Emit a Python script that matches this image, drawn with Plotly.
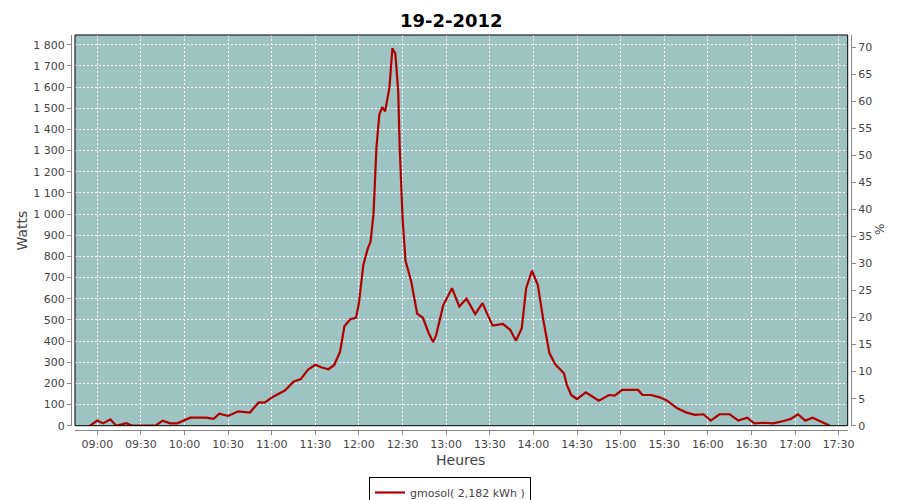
import plotly.graph_objects as go

DAY = "2012-02-19"
times = ["08:55", "09:00", "09:04", "09:09", "09:13", "09:20", "09:24", "09:40", "09:45", "09:50",
         "09:55", "10:00", "10:04", "10:15", "10:18", "10:20", "10:24", "10:30", "10:37", "10:45",
         "10:51", "10:55", "11:01", "11:09", "11:15", "11:20", "11:25", "11:30", "11:34", "11:39",
         "11:43", "11:47", "11:50", "11:54", "11:58", "12:00", "12:03", "12:06", "12:08", "12:10",
         "12:12", "12:14", "12:16", "12:18", "12:21", "12:23", "12:24", "12:25", "12:27", "12:28",
         "12:30", "12:32", "12:36", "12:40", "12:44", "12:48", "12:51", "12:53", "12:58", "13:04",
         "13:09", "13:14", "13:20", "13:25", "13:28", "13:32", "13:39", "13:44", "13:48", "13:52",
         "13:55", "13:59", "14:03", "14:07", "14:11", "14:15", "14:21", "14:23", "14:26", "14:30",
         "14:36", "14:41", "14:45", "14:52", "14:56", "15:01", "15:12", "15:15", "15:21", "15:27",
         "15:32", "15:39", "15:45", "15:51", "15:57", "16:02", "16:08", "16:15", "16:21", "16:27",
         "16:32", "16:38", "16:45", "16:52", "16:57", "17:02", "17:07", "17:12", "17:18", "17:24"]
watts = [0, 24, 11, 30, 0, 12, 0, 0, 24, 11,
         11, 27, 38, 38, 33, 33, 57, 46, 68, 62,
         110, 109, 137, 166, 208, 220, 265, 288, 276, 267,
         287, 350, 470, 503, 510, 580, 760, 835, 870, 1000,
         1310, 1470, 1505, 1485, 1600, 1783, 1770, 1760, 1580, 1320,
         980, 780, 680, 530, 510, 437, 395, 425, 570, 650,
         563, 600, 527, 579, 532, 473, 481, 453, 401, 461,
         650, 732, 666, 492, 343, 290, 248, 193, 145, 126,
         158, 137, 118, 145, 142, 169, 169, 145, 145, 134,
         118, 82, 63, 51, 54, 24, 54, 54, 24, 38,
         11, 14, 11, 22, 32, 54, 24, 38, 19, 0]

title_text = "19-2-2012"
series_name = "gmosol( 2,182 kWh )"
x_title = "Heures"
y_title = "Watts"
y2_title = "%"
watt_ticks = list(range(0, 1900, 100))
watt_labels = [f"{v:,}".replace(",", " ") for v in watt_ticks]
pct_ticks = list(range(0, 75, 5))

x = [f"{DAY} {t}" for t in times]

OFF = 8  # page body margin applied by the browser
W, H = 900 - OFF, 500 - OFF
pl, pr, pt, pb = 71 - OFF, 851 - OFF, 35 - OFF, 430 - OFF   # paper box (axis lines)
area_l, area_r, area_b = 75 - OFF, 847.7 - OFF, 425.7 - OFF  # plot area edges
pw, ph = pr - pl, pb - pt
dom_x = [(area_l - pl) / pw, (area_r - pl) / pw]
dom_y = [(pb - area_b) / ph, 1]


def px(v):
    return (v - OFF - pl) / pw


def py(v):
    return (pb - (v - OFF)) / ph


tickfont = dict(family="DejaVu Sans", size=11, color="#444444")
axcol = "#888888"

fig = go.Figure()
fig.add_trace(go.Scatter(x=x, y=watts, mode="lines", name=series_name,
                         line=dict(color="#b00000", width=2.2)))
fig.add_trace(go.Scatter(x=[], y=[], yaxis="y2", showlegend=False, hoverinfo="skip"))

fig.update_layout(
    width=W, height=H,
    margin=dict(l=pl, r=W - pr, t=pt, b=H - pb, autoexpand=False),
    paper_bgcolor="white", plot_bgcolor="#9dc3c2",
    xaxis=dict(domain=dom_x, anchor="free", position=0, type="date",
               range=[f"{DAY} 08:44:40", f"{DAY} 17:36:12"],
               dtick=30 * 60 * 1000, tick0=f"{DAY} 09:00", tickformat="%H:%M",
               showgrid=True, gridcolor="white", griddash="2px,2px", gridwidth=1,
               showline=True, linecolor=axcol, linewidth=1,
               ticks="outside", ticklen=4, tickcolor=axcol, tickfont=tickfont,
               zeroline=False, automargin=False),
    yaxis=dict(domain=dom_y, anchor="free", position=0, range=[0, 1846],
               tickvals=watt_ticks, ticktext=watt_labels,
               showgrid=True, gridcolor="white", griddash="2px,2px", gridwidth=1,
               showline=True, linecolor=axcol, linewidth=1,
               ticks="outside", ticklen=4, tickcolor=axcol, tickfont=tickfont,
               zeroline=False, automargin=False),
    yaxis2=dict(overlaying="y", side="right", anchor="free", position=1,
                range=[0, 72.27], tickvals=pct_ticks, showgrid=False,
                showline=True, linecolor=axcol, linewidth=1,
                ticks="outside", ticklen=4, tickcolor=axcol, tickfont=tickfont,
                zeroline=False, automargin=False),
    legend=dict(orientation="h", x=px(450), xanchor="center",
                y=py(477), yanchor="top",
                bordercolor="black", borderwidth=1, bgcolor="white",
                font=dict(family="DejaVu Sans", size=11, color="#444444"),
                itemwidth=30),
    showlegend=True,
)

fig.add_shape(type="rect", xref="paper", yref="paper",
              x0=dom_x[0], x1=dom_x[1], y0=dom_y[0], y1=dom_y[1],
              line=dict(color="black", width=1), fillcolor="rgba(0,0,0,0)", layer="above")

fig.add_annotation(text=f"<b>{title_text}</b>", xref="paper", yref="paper",
                   x=px(451), y=py(8.5), xanchor="center", yanchor="top",
                   showarrow=False, borderpad=0,
                   font=dict(family="DejaVu Sans", size=18, color="black"))
fig.add_annotation(text=y_title, xref="paper", yref="paper",
                   x=px(21), y=py(230.5), textangle=-90,
                   showarrow=False, xanchor="center", yanchor="middle",
                   font=dict(family="DejaVu Sans", size=14, color="#444444"))
fig.add_annotation(text=x_title, xref="paper", yref="paper",
                   x=px(460), y=py(460),
                   showarrow=False, xanchor="center", yanchor="middle",
                   font=dict(family="DejaVu Sans", size=14, color="#444444"))
fig.add_annotation(text=y2_title, xref="paper", yref="paper",
                   x=px(880), y=py(230), textangle=-90,
                   showarrow=False, xanchor="center", yanchor="middle",
                   font=dict(family="DejaVu Sans", size=12, color="#444444"))

fig.write_html("out.html")
